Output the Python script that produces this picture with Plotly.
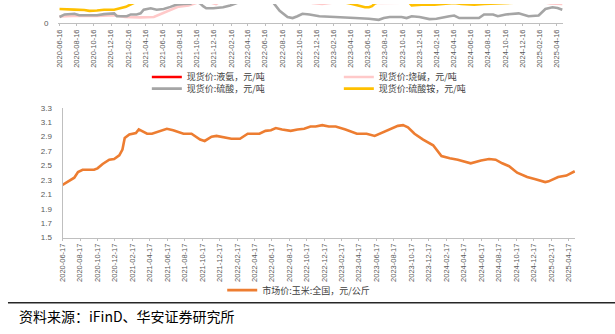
import plotly.graph_objects as go

W, H = 615, 334

# ---------------- data: top chart (元/吨) ----------------
red_dates = ["2020-06-16", "2020-10-16", "2021-02-16", "2021-06-16", "2021-10-16", "2022-02-16",
             "2022-06-16", "2022-10-16", "2023-02-16", "2023-06-16", "2023-10-16", "2024-02-16",
             "2024-06-16", "2024-10-16", "2025-02-16", "2025-05-07"]
red_vals = [2700, 2900, 3300, 3600, 5000, 4500, 4200, 4800, 4200, 3000, 3500, 3300, 2900, 2800, 2700, 2500]

pink_dates = ["2020-06-16", "2020-08-25", "2020-10-27", "2020-12-27", "2021-02-03", "2021-03-28",
              "2021-05-17", "2021-06-21", "2021-07-15", "2021-08-13", "2021-09-17", "2021-10-15",
              "2021-11-08", "2021-11-26", "2021-12-24", "2022-01-20", "2022-06-08", "2022-10-27",
              "2022-12-01", "2023-01-05", "2023-02-10", "2023-04-01", "2023-05-23", "2023-08-02",
              "2023-10-14", "2023-11-19", "2024-01-28", "2024-05-13", "2024-09-30", "2024-12-10",
              "2025-02-19", "2025-03-26", "2025-05-07"]
pink_vals = [330, 360, 350, 380, 300, 280, 300, 500, 650, 780, 830, 950, 1050, 1000, 900, 1100,
             1400, 1300, 950, 900, 980, 1050, 980, 950, 960, 970, 960, 990, 1000, 980, 1000, 930, 900]

gray_dates = ["2020-06-16", "2020-07-04", "2020-08-08", "2020-08-25", "2020-10-27", "2020-11-21",
              "2020-12-27", "2021-01-06", "2021-02-10", "2021-02-24", "2021-03-17", "2021-03-31",
              "2021-04-11", "2021-05-06", "2021-05-27", "2021-06-21", "2021-07-15", "2021-08-05",
              "2021-08-30", "2021-09-24", "2021-10-11", "2021-10-29", "2021-11-08", "2021-11-19",
              "2021-12-14", "2022-01-18", "2022-02-12", "2022-03-05", "2022-03-19", "2022-03-30",
              "2022-05-04", "2022-06-08", "2022-06-26", "2022-07-13", "2022-08-07", "2022-09-04",
              "2022-09-22", "2022-10-09", "2022-10-27", "2022-11-21", "2022-12-26", "2023-02-20",
              "2023-04-11", "2023-05-02", "2023-06-20", "2023-07-25", "2023-08-12", "2023-09-02",
              "2023-10-14", "2023-11-01", "2023-11-19", "2023-12-17", "2024-01-21", "2024-02-15",
              "2024-04-01", "2024-04-18", "2024-05-06", "2024-07-15", "2024-08-02", "2024-09-03",
              "2024-09-20", "2024-10-18", "2024-12-03", "2025-01-07", "2025-02-12", "2025-03-08",
              "2025-04-02", "2025-04-20", "2025-05-07"]
gray_vals = [300, 417, 450, 383, 383, 433, 467, 333, 333, 417, 417, 467, 633, 700, 633, 667, 767,
             867, 900, 917, 1050, 917, 800, 700, 700, 750, 833, 917, 1000, 1200, 1800, 1500, 1100,
             1000, 583, 300, 250, 333, 450, 417, 333, 300, 283, 250, 217, 167, 250, 300, 300, 250,
             333, 300, 200, 217, 333, 367, 250, 250, 417, 417, 333, 417, 467, 333, 367, 667, 750,
             717, 633]

yellow_dates = ["2020-06-16", "2020-07-04", "2020-08-08", "2020-09-12", "2020-09-30", "2020-10-27",
                "2020-11-21", "2020-12-27", "2021-01-20", "2021-02-07", "2021-02-17", "2021-02-28",
                "2021-03-17", "2021-03-31", "2021-05-17", "2021-11-08", "2022-05-04", "2022-10-27",
                "2023-02-10", "2023-03-17", "2023-04-21", "2023-05-16", "2023-06-06", "2023-06-20",
                "2023-07-01", "2023-07-11", "2023-07-29", "2023-08-16", "2023-10-14", "2023-11-08",
                "2023-11-19", "2023-12-24", "2024-02-08", "2024-03-03", "2024-03-28", "2024-04-18",
                "2024-05-13", "2024-06-28", "2024-08-02", "2024-09-06", "2024-11-15", "2024-12-28",
                "2025-01-25", "2025-02-19", "2025-05-07"]
yellow_vals = [667, 650, 640, 620, 583, 600, 633, 633, 700, 767, 833, 917, 1000, 1200, 1400, 1800,
               1700, 1500, 1300, 1000, 900, 833, 750, 750, 800, 917, 1000, 1100, 1150, 1000, 833,
               870, 867, 900, 917, 950, 900, 867, 900, 917, 917, 950, 1000, 1100, 1100]

# ---------------- data: bottom chart (元/公斤) ----------------
corn_dates = ["2020-06-17", "2020-07-17", "2020-07-28", "2020-08-10", "2020-08-26", "2020-10-05",
              "2020-10-17", "2020-11-04", "2020-11-27", "2020-12-14", "2021-01-01", "2021-01-12",
              "2021-01-20", "2021-02-05", "2021-02-28", "2021-03-10", "2021-03-27", "2021-04-08",
              "2021-04-25", "2021-05-12", "2021-06-16", "2021-07-08", "2021-08-13", "2021-09-10",
              "2021-10-10", "2021-10-26", "2021-11-19", "2021-12-06", "2021-12-29", "2022-01-27",
              "2022-02-26", "2022-03-25", "2022-05-05", "2022-05-26", "2022-06-14", "2022-07-01",
              "2022-07-23", "2022-08-22", "2022-09-15", "2022-10-08", "2022-10-30", "2022-11-17",
              "2022-12-10", "2023-01-02", "2023-01-26", "2023-03-01", "2023-04-10", "2023-05-14",
              "2023-06-11", "2023-07-04", "2023-08-08", "2023-08-31", "2023-09-18", "2023-10-05",
              "2023-10-28", "2023-11-27", "2024-01-01", "2024-01-30", "2024-02-28", "2024-03-27",
              "2024-05-11", "2024-06-16", "2024-07-14", "2024-08-06", "2024-08-29", "2024-09-22",
              "2024-10-20", "2024-11-24", "2024-12-23", "2025-01-26", "2025-02-07", "2025-03-12",
              "2025-04-10", "2025-05-09"]
corn_vals = [2.23, 2.30, 2.33, 2.41, 2.44, 2.44, 2.46, 2.52, 2.58, 2.59, 2.64, 2.72, 2.88, 2.93,
             2.95, 3.00, 2.97, 2.94, 2.94, 2.96, 3.01, 2.99, 2.94, 2.94, 2.86, 2.84, 2.90, 2.91,
             2.89, 2.87, 2.87, 2.94, 2.94, 2.98, 2.99, 3.02, 3.00, 2.98, 3.00, 3.01, 3.04, 3.04,
             3.06, 3.04, 3.04, 3.00, 2.94, 2.94, 2.91, 2.95, 3.00, 3.05, 3.06, 3.03, 2.94, 2.86,
             2.78, 2.63, 2.60, 2.58, 2.53, 2.57, 2.59, 2.58, 2.53, 2.49, 2.40, 2.34, 2.31, 2.27,
             2.28, 2.34, 2.36, 2.42]

# tick labels (every two months)
months = []
y, m = 2020, 6
while (y, m) <= (2025, 4):
    months.append((y, m))
    m += 2
    if m > 12:
        m -= 12
        y += 1
top_ticks = [f"{y}-{m:02d}-16" for y, m in months]
bot_ticks = [f"{y}-{m:02d}-17" for y, m in months]

names_top = ["现货价:液氨，元/吨", "现货价:烧碱，元/吨", "现货价:硫酸，元/吨", "现货价:硫酸铵，元/吨"]
name_corn = "市场价:玉米:全国，元/公斤"
source_text = "资料来源：iFinD、华安证券研究所"


def fx(px):
    return px / W


def fy(py):
    return 1 - py / H


fig = go.Figure()
lw = 2.6
fig.add_trace(go.Scatter(x=red_dates, y=red_vals, name=names_top[0], mode="lines",
                         line=dict(color="#FF0000", width=lw), xaxis="x", yaxis="y", legend="legend"))
fig.add_trace(go.Scatter(x=pink_dates, y=pink_vals, name=names_top[1], mode="lines",
                         line=dict(color="#FFC9C9", width=lw), xaxis="x", yaxis="y", legend="legend"))
fig.add_trace(go.Scatter(x=gray_dates, y=gray_vals, name=names_top[2], mode="lines",
                         line=dict(color="#A5A5A5", width=lw), xaxis="x", yaxis="y", legend="legend2"))
fig.add_trace(go.Scatter(x=yellow_dates, y=yellow_vals, name=names_top[3], mode="lines",
                         line=dict(color="#FFC000", width=lw), xaxis="x", yaxis="y", legend="legend2"))
fig.add_trace(go.Scatter(x=corn_dates, y=corn_vals, name=name_corn, mode="lines",
                         line=dict(color="#ED7D31", width=2.6), xaxis="x2", yaxis="y2", legend="legend3"))

tickfont = dict(family="Liberation Sans, Arial", size=7.5, color="#595959")
legfont = dict(family="Noto Sans CJK SC", size=9, color="#404040")

common_leg = dict(orientation="h", xanchor="left", yanchor="middle", font=legfont,
                  bgcolor="rgba(0,0,0,0)", entrywidth=147, entrywidthmode="pixels",
                  itemwidth=30, tracegroupgap=0)

fig.update_layout(
    width=W, height=H, margin=dict(l=0, r=0, t=0, b=0),
    paper_bgcolor="white", plot_bgcolor="white",
    showlegend=True,
    xaxis=dict(domain=[fx(53), fx(563)], type="date", range=["2020-06-09", "2025-05-11"],
               tickmode="array", tickvals=top_ticks, ticktext=top_ticks, tickangle=-90,
               tickfont=tickfont, showgrid=False, zeroline=False, showline=True,
               linecolor="#BFBFBF", linewidth=1, ticks="outside", ticklen=2, tickcolor="#BFBFBF",
               anchor="y"),
    yaxis=dict(domain=[fy(20), 1], range=[0, 900], tickmode="array", tickvals=[0], ticktext=["0"],
               tickfont=dict(family="Liberation Sans, Arial", size=8, color="#595959"),
               showgrid=False, zeroline=False, showline=False, ticklabelstandoff=8, anchor="x"),
    xaxis2=dict(domain=[fx(58), fx(575)], type="date", range=["2020-06-17", "2025-05-11"],
                tickmode="array", tickvals=bot_ticks, ticktext=bot_ticks, tickangle=-90,
                tickfont=tickfont, showgrid=False, zeroline=False, showline=True,
                linecolor="#BFBFBF", linewidth=1, ticks="outside", ticklen=2, tickcolor="#BFBFBF",
                anchor="y2"),
    yaxis2=dict(domain=[fy(240), fy(106.7)], range=[1.5, 3.3], tickmode="linear", tick0=1.5, dtick=0.2,
                tickformat=".1f", tickfont=dict(family="Liberation Sans, Arial", size=8, color="#595959"),
                showgrid=False, zeroline=False, showline=True, linecolor="#BFBFBF", linewidth=1,
                ticklabelstandoff=8, anchor="x2"),
    legend=dict(x=fx(143), y=fy(75), **common_leg),
    legend2=dict(x=fx(143), y=fy(87), **common_leg),
    legend3=dict(x=fx(219), y=fy(294), **common_leg),
    shapes=[dict(type="line", xref="paper", yref="paper", x0=fx(3), x1=1, y0=fy(307), y1=fy(307),
                 line=dict(color="#262626", width=1.5))],
    annotations=[dict(text=source_text, xref="paper", yref="paper", x=fx(12), y=fy(321),
                      xanchor="left", yanchor="middle", showarrow=False,
                      font=dict(family="Noto Sans CJK SC", size=14, color="#000000"))],
)

fig.write_html("out.html")
